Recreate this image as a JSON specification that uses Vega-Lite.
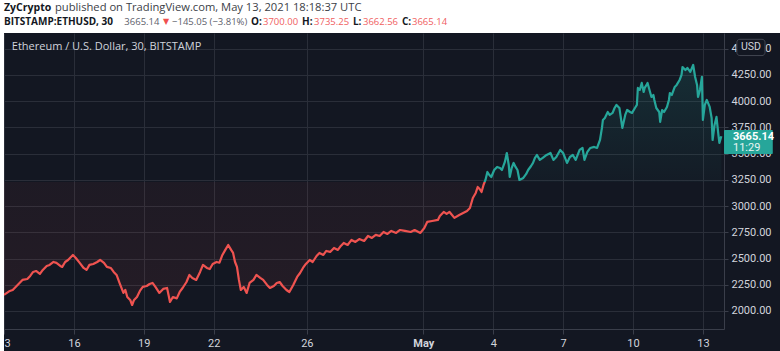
{
  "$schema": "https://vega.github.io/schema/vega-lite/v6.json",
  "width": 720,
  "height": 296,
  "autosize": {"type": "none"},
  "padding": {"left": 4, "top": 33, "right": 56, "bottom": 22},
  "background": "#131722",
  "config": {
    "view": {"stroke": null, "fill": "#131722"},
    "axis": {
      "labelFont": "Roboto", "labelFontSize": 11, "labelColor": "#d1d4dc",
      "gridColor": "#2a2e39", "gridWidth": 1, "tickColor": "#3a3e4a", "domainColor": "#3a3e4a",
      "title": null, "zindex": 0
    },
    "text": {"align": "left", "baseline": "middle", "clip": false},
    "rect": {"clip": false}
  },
  "data": {"values": [
    {"t":"2021-04-13T00:00Z","p":2153},{"t":"2021-04-13T03:00Z","p":2172},{"t":"2021-04-13T06:00Z","p":2191},{"t":"2021-04-13T09:00Z","p":2200},
    {"t":"2021-04-13T13:00Z","p":2238},{"t":"2021-04-13T16:00Z","p":2267},{"t":"2021-04-13T19:00Z","p":2296},{"t":"2021-04-14T00:00Z","p":2305},
    {"t":"2021-04-14T03:00Z","p":2334},{"t":"2021-04-14T06:00Z","p":2372},{"t":"2021-04-14T09:00Z","p":2381},{"t":"2021-04-14T13:00Z","p":2353},
    {"t":"2021-04-14T16:00Z","p":2391},{"t":"2021-04-14T20:00Z","p":2429},{"t":"2021-04-14T23:00Z","p":2439},{"t":"2021-04-15T03:00Z","p":2467},
    {"t":"2021-04-15T06:00Z","p":2458},{"t":"2021-04-15T10:00Z","p":2429},{"t":"2021-04-15T12:00Z","p":2420},{"t":"2021-04-15T15:00Z","p":2467},
    {"t":"2021-04-15T18:00Z","p":2486},{"t":"2021-04-15T21:00Z","p":2515},{"t":"2021-04-15T23:00Z","p":2534},{"t":"2021-04-16T02:00Z","p":2505},
    {"t":"2021-04-16T06:00Z","p":2458},{"t":"2021-04-16T10:00Z","p":2410},{"t":"2021-04-16T13:00Z","p":2391},{"t":"2021-04-16T16:00Z","p":2439},
    {"t":"2021-04-16T20:00Z","p":2448},{"t":"2021-04-17T00:00Z","p":2467},{"t":"2021-04-17T03:00Z","p":2486},{"t":"2021-04-17T07:00Z","p":2458},
    {"t":"2021-04-17T10:00Z","p":2420},{"t":"2021-04-17T14:00Z","p":2410},{"t":"2021-04-17T17:00Z","p":2372},{"t":"2021-04-17T20:00Z","p":2343},
    {"t":"2021-04-17T23:00Z","p":2267},{"t":"2021-04-18T03:00Z","p":2172},{"t":"2021-04-18T05:00Z","p":2200},{"t":"2021-04-18T07:00Z","p":2133},
    {"t":"2021-04-18T10:00Z","p":2105},{"t":"2021-04-18T12:00Z","p":2057},{"t":"2021-04-18T14:00Z","p":2105},{"t":"2021-04-18T17:00Z","p":2133},
    {"t":"2021-04-18T20:00Z","p":2191},{"t":"2021-04-18T23:00Z","p":2229},{"t":"2021-04-19T03:00Z","p":2238},{"t":"2021-04-19T06:00Z","p":2257},
    {"t":"2021-04-19T09:00Z","p":2267},{"t":"2021-04-19T12:00Z","p":2229},{"t":"2021-04-19T16:00Z","p":2172},{"t":"2021-04-19T20:00Z","p":2210},
    {"t":"2021-04-20T00:00Z","p":2219},{"t":"2021-04-20T03:00Z","p":2086},{"t":"2021-04-20T06:00Z","p":2133},{"t":"2021-04-20T10:00Z","p":2120},
    {"t":"2021-04-20T13:00Z","p":2181},{"t":"2021-04-20T16:00Z","p":2219},{"t":"2021-04-20T20:00Z","p":2276},{"t":"2021-04-20T23:00Z","p":2343},
    {"t":"2021-04-21T02:00Z","p":2315},{"t":"2021-04-21T06:00Z","p":2296},{"t":"2021-04-21T10:00Z","p":2372},{"t":"2021-04-21T13:00Z","p":2439},
    {"t":"2021-04-21T17:00Z","p":2410},{"t":"2021-04-21T20:00Z","p":2400},{"t":"2021-04-21T23:00Z","p":2448},{"t":"2021-04-22T03:00Z","p":2467},
    {"t":"2021-04-22T06:00Z","p":2460},{"t":"2021-04-22T09:00Z","p":2534},{"t":"2021-04-22T12:00Z","p":2582},{"t":"2021-04-22T15:00Z","p":2629},
    {"t":"2021-04-22T18:00Z","p":2582},{"t":"2021-04-22T20:00Z","p":2553},{"t":"2021-04-22T22:00Z","p":2467},{"t":"2021-04-23T00:00Z","p":2420},
    {"t":"2021-04-23T02:00Z","p":2296},{"t":"2021-04-23T04:00Z","p":2200},{"t":"2021-04-23T07:00Z","p":2229},{"t":"2021-04-23T10:00Z","p":2172},
    {"t":"2021-04-23T13:00Z","p":2267},{"t":"2021-04-23T17:00Z","p":2296},{"t":"2021-04-23T20:00Z","p":2343},{"t":"2021-04-24T00:00Z","p":2315},
    {"t":"2021-04-24T03:00Z","p":2296},{"t":"2021-04-24T07:00Z","p":2248},{"t":"2021-04-24T10:00Z","p":2219},{"t":"2021-04-24T14:00Z","p":2238},
    {"t":"2021-04-24T17:00Z","p":2267},{"t":"2021-04-24T20:00Z","p":2276},{"t":"2021-04-24T23:00Z","p":2238},{"t":"2021-04-25T03:00Z","p":2200},
    {"t":"2021-04-25T06:00Z","p":2181},{"t":"2021-04-25T10:00Z","p":2248},{"t":"2021-04-25T14:00Z","p":2324},{"t":"2021-04-25T17:00Z","p":2362},
    {"t":"2021-04-25T20:00Z","p":2410},{"t":"2021-04-25T23:00Z","p":2448},{"t":"2021-04-26T03:00Z","p":2486},{"t":"2021-04-26T06:00Z","p":2467},
    {"t":"2021-04-26T10:00Z","p":2524},{"t":"2021-04-26T13:00Z","p":2553},{"t":"2021-04-26T17:00Z","p":2534},{"t":"2021-04-26T20:00Z","p":2572},
    {"t":"2021-04-27T00:00Z","p":2563},{"t":"2021-04-27T04:00Z","p":2601},{"t":"2021-04-27T08:00Z","p":2582},{"t":"2021-04-27T11:00Z","p":2620},
    {"t":"2021-04-27T14:00Z","p":2648},{"t":"2021-04-27T18:00Z","p":2629},{"t":"2021-04-27T22:00Z","p":2677},{"t":"2021-04-28T02:00Z","p":2658},
    {"t":"2021-04-28T06:00Z","p":2686},{"t":"2021-04-28T11:00Z","p":2667},{"t":"2021-04-28T15:00Z","p":2715},{"t":"2021-04-28T19:00Z","p":2696},
    {"t":"2021-04-28T23:00Z","p":2725},{"t":"2021-04-29T03:00Z","p":2715},{"t":"2021-04-29T07:00Z","p":2753},{"t":"2021-04-29T11:00Z","p":2734},
    {"t":"2021-04-29T15:00Z","p":2763},{"t":"2021-04-29T20:00Z","p":2744},{"t":"2021-04-30T00:00Z","p":2772},{"t":"2021-04-30T05:00Z","p":2763},
    {"t":"2021-04-30T11:00Z","p":2753},{"t":"2021-04-30T15:00Z","p":2772},{"t":"2021-04-30T21:00Z","p":2744},{"t":"2021-05-01T01:00Z","p":2791},
    {"t":"2021-05-01T04:00Z","p":2849},{"t":"2021-05-01T09:00Z","p":2858},{"t":"2021-05-01T15:00Z","p":2868},{"t":"2021-05-01T17:00Z","p":2906},
    {"t":"2021-05-01T21:00Z","p":2944},{"t":"2021-05-02T00:00Z","p":2925},{"t":"2021-05-02T03:00Z","p":2944},{"t":"2021-05-02T08:00Z","p":2887},
    {"t":"2021-05-02T13:00Z","p":2915},{"t":"2021-05-02T17:00Z","p":2934},{"t":"2021-05-02T21:00Z","p":2953},{"t":"2021-05-03T00:00Z","p":2982},
    {"t":"2021-05-03T03:00Z","p":3077},{"t":"2021-05-03T06:00Z","p":3125},{"t":"2021-05-03T08:00Z","p":3182},{"t":"2021-05-03T10:00Z","p":3163},
    {"t":"2021-05-03T12:00Z","p":3134},{"t":"2021-05-03T14:00Z","p":3201},{"t":"2021-05-03T16:00Z","p":3249},{"t":"2021-05-03T18:00Z","p":3325},
    {"t":"2021-05-03T20:00Z","p":3296},{"t":"2021-05-03T22:00Z","p":3277},{"t":"2021-05-04T01:00Z","p":3344},{"t":"2021-05-04T04:00Z","p":3373},
    {"t":"2021-05-04T07:00Z","p":3363},{"t":"2021-05-04T09:00Z","p":3344},{"t":"2021-05-04T12:00Z","p":3421},{"t":"2021-05-04T14:00Z","p":3506},
    {"t":"2021-05-04T16:00Z","p":3392},{"t":"2021-05-04T17:00Z","p":3278},{"t":"2021-05-04T19:00Z","p":3363},{"t":"2021-05-04T21:00Z","p":3411},
    {"t":"2021-05-04T23:00Z","p":3373},{"t":"2021-05-05T01:00Z","p":3344},{"t":"2021-05-05T03:00Z","p":3249},{"t":"2021-05-05T07:00Z","p":3268},
    {"t":"2021-05-05T10:00Z","p":3306},{"t":"2021-05-05T12:00Z","p":3344},{"t":"2021-05-05T15:00Z","p":3382},{"t":"2021-05-05T17:00Z","p":3411},
    {"t":"2021-05-05T19:00Z","p":3459},{"t":"2021-05-05T21:00Z","p":3487},{"t":"2021-05-06T00:00Z","p":3440},{"t":"2021-05-06T03:00Z","p":3459},
    {"t":"2021-05-06T07:00Z","p":3487},{"t":"2021-05-06T11:00Z","p":3506},{"t":"2021-05-06T14:00Z","p":3440},{"t":"2021-05-06T17:00Z","p":3468},
    {"t":"2021-05-06T21:00Z","p":3535},{"t":"2021-05-07T00:00Z","p":3506},{"t":"2021-05-07T02:00Z","p":3459},{"t":"2021-05-07T04:00Z","p":3411},
    {"t":"2021-05-07T07:00Z","p":3468},{"t":"2021-05-07T10:00Z","p":3487},{"t":"2021-05-07T13:00Z","p":3440},{"t":"2021-05-07T17:00Z","p":3535},
    {"t":"2021-05-07T20:00Z","p":3554},{"t":"2021-05-07T22:00Z","p":3440},{"t":"2021-05-08T01:00Z","p":3516},{"t":"2021-05-08T04:00Z","p":3554},
    {"t":"2021-05-08T08:00Z","p":3564},{"t":"2021-05-08T11:00Z","p":3554},{"t":"2021-05-08T14:00Z","p":3630},{"t":"2021-05-08T16:00Z","p":3745},
    {"t":"2021-05-08T17:00Z","p":3821},{"t":"2021-05-08T19:00Z","p":3840},{"t":"2021-05-08T22:00Z","p":3897},{"t":"2021-05-09T00:00Z","p":3869},
    {"t":"2021-05-09T03:00Z","p":3888},{"t":"2021-05-09T05:00Z","p":3935},{"t":"2021-05-09T07:00Z","p":3964},{"t":"2021-05-09T10:00Z","p":3935},
    {"t":"2021-05-09T13:00Z","p":3745},{"t":"2021-05-09T16:00Z","p":3869},{"t":"2021-05-09T18:00Z","p":3916},{"t":"2021-05-09T21:00Z","p":3897},
    {"t":"2021-05-09T23:00Z","p":3888},{"t":"2021-05-10T02:00Z","p":3935},{"t":"2021-05-10T04:00Z","p":3964},{"t":"2021-05-10T05:00Z","p":4126},
    {"t":"2021-05-10T07:00Z","p":4107},{"t":"2021-05-10T09:00Z","p":4174},{"t":"2021-05-10T11:00Z","p":4088},{"t":"2021-05-10T12:00Z","p":4126},
    {"t":"2021-05-10T14:00Z","p":4155},{"t":"2021-05-10T15:00Z","p":4174},{"t":"2021-05-10T17:00Z","p":4107},{"t":"2021-05-10T19:00Z","p":4040},
    {"t":"2021-05-10T21:00Z","p":4059},{"t":"2021-05-10T22:00Z","p":4012},{"t":"2021-05-11T00:00Z","p":3935},{"t":"2021-05-11T03:00Z","p":3897},
    {"t":"2021-05-11T04:00Z","p":3802},{"t":"2021-05-11T06:00Z","p":3916},{"t":"2021-05-11T08:00Z","p":3897},{"t":"2021-05-11T11:00Z","p":3945},
    {"t":"2021-05-11T13:00Z","p":4012},{"t":"2021-05-11T14:00Z","p":4078},{"t":"2021-05-11T16:00Z","p":4059},{"t":"2021-05-11T19:00Z","p":4136},
    {"t":"2021-05-11T21:00Z","p":4155},{"t":"2021-05-12T00:00Z","p":4202},{"t":"2021-05-12T02:00Z","p":4250},{"t":"2021-05-12T03:00Z","p":4326},
    {"t":"2021-05-12T06:00Z","p":4297},{"t":"2021-05-12T08:00Z","p":4317},{"t":"2021-05-12T11:00Z","p":4279},{"t":"2021-05-12T14:00Z","p":4345},
    {"t":"2021-05-12T16:00Z","p":4231},{"t":"2021-05-12T18:00Z","p":4155},{"t":"2021-05-12T19:00Z","p":4040},{"t":"2021-05-12T21:00Z","p":4107},
    {"t":"2021-05-12T23:00Z","p":4231},{"t":"2021-05-13T00:00Z","p":3821},{"t":"2021-05-13T02:00Z","p":3964},{"t":"2021-05-13T04:00Z","p":4012},
    {"t":"2021-05-13T07:00Z","p":3945},{"t":"2021-05-13T09:00Z","p":3840},{"t":"2021-05-13T10:00Z","p":3630},{"t":"2021-05-13T12:00Z","p":3773},
    {"t":"2021-05-13T14:00Z","p":3850},{"t":"2021-05-13T16:00Z","p":3678},{"t":"2021-05-13T17:00Z","p":3602},{"t":"2021-05-13T19:00Z","p":3665.14}
  ]},
  "encoding": {
    "x": {
      "field": "t", "type": "temporal",
      "scale": {"type": "utc", "domain": [1618272000000, 1620942300000]},
      "axis": {
        "orient": "bottom", "grid": true, "tickSize": 5, "labelPadding": 3, "labelFlush": false, "labelOverlap": false,
        "values": [1618272000000, 1618531200000, 1618790400000, 1619049600000, 1619395200000, 1619827200000, 1620086400000, 1620345600000, 1620604800000, 1620864000000],
        "labelExpr": "utcdate(datum.value) == 1 ? 'May' : utcFormat(datum.value, '%-d')",
        "labelFontWeight": {"condition": {"test": "utcdate(datum.value) == 1", "value": "bold"}, "value": "normal"}
      }
    },
    "y": {
      "field": "p", "type": "quantitative",
      "scale": {"domain": [1828, 4650], "zero": false, "nice": false},
      "axis": {
        "orient": "right", "grid": true, "tickSize": 4, "labelPadding": 3, "format": ".2f", "labelOverlap": false, "labelBound": false,
        "values": [2000, 2250, 2500, 2750, 3000, 3250, 3500, 3750, 4000, 4250, 4500]
      }
    }
  },
  "layer": [
    {
      "mark": {
        "type": "area", "clip": true,
        "fill": {"gradient": "linear", "x1": 0, "y1": 0, "x2": 0, "y2": 1, "stops": [
          {"offset": 0, "color": "rgba(38,166,154,0.16)"},
          {"offset": 0.4874, "color": "rgba(38,166,154,0.03)"},
          {"offset": 0.4874, "color": "rgba(239,83,80,0.05)"},
          {"offset": 1, "color": "rgba(239,83,80,0.08)"}
        ]}
      },
      "encoding": {"y2": {"datum": 3230}}
    },
    {
      "mark": {
        "type": "line", "clip": true, "strokeWidth": 2.2, "strokeJoin": "round",
        "stroke": {"gradient": "linear", "x1": 0, "y1": 0, "x2": 0, "y2": 1, "stops": [
          {"offset": 0, "color": "#26a69a"},
          {"offset": 0.4874, "color": "#26a69a"},
          {"offset": 0.4874, "color": "#ef5350"},
          {"offset": 1, "color": "#ef5350"}
        ]}
      }
    },
    {
      "transform": [{"filter": {"field": "p", "equal": 3665.14}}],
      "mark": {"type": "rect", "fill": "#ffffff"},
      "encoding": {
        "x": {"datum": {"year": 2021, "month": 4, "date": 10}},
        "x2": {"datum": {"year": 2021, "month": 5, "date": 25}},
        "y": {"datum": 4650},
        "y2": {"datum": 9000}
      }
    },
    {
      "transform": [{"filter": {"field": "p", "equal": 3665.14}}],
      "mark": {"type": "rect", "fill": "#ffffff"},
      "encoding": {
        "x": {"datum": {"year": 2021, "month": 4, "date": 10}},
        "x2": {"datum": {"year": 2021, "month": 4, "date": 13}},
        "y": {"datum": 0},
        "y2": {"datum": 9000}
      }
    },
    {
      "transform": [{"filter": {"field": "p", "equal": 3665.14}}],
      "mark": {"type": "rect", "fill": "#131722", "stroke": "#434651", "strokeWidth": 1, "cornerRadius": 3},
      "encoding": {
        "x": {"datum": {"year": 2021, "month": 5, "date": 14, "hours": 11}},
        "x2": {"datum": {"year": 2021, "month": 5, "date": 15, "hours": 16}},
        "y": {"datum": 4590},
        "y2": {"datum": 4435}
      }
    },
    {
      "transform": [{"filter": {"field": "p", "equal": 3665.14}}],
      "mark": {"type": "text", "align": "center", "font": "Roboto", "fontSize": 10.5, "color": "#d1d4dc"},
      "encoding": {
        "x": {"datum": {"year": 2021, "month": 5, "date": 15, "hours": 1, "minutes": 30}},
        "y": {"datum": 4512},
        "text": {"value": "USD"}
      }
    },
    {
      "transform": [{"filter": {"field": "p", "equal": 3665.14}}],
      "mark": {"type": "rect", "fill": "#26a69a", "cornerRadius": 1},
      "encoding": {
        "x": {"datum": {"year": 2021, "month": 5, "date": 13, "hours": 21, "minutes": 45}},
        "x2": {"datum": {"year": 2021, "month": 5, "date": 16}},
        "y": {"datum": 3725},
        "y2": {"datum": 3496}
      }
    },
    {
      "transform": [{"filter": {"field": "p", "equal": 3665.14}}],
      "mark": {"type": "text", "font": "Roboto", "fontSize": 11, "fontWeight": "bold", "color": "#ffffff"},
      "encoding": {
        "x": {"datum": {"year": 2021, "month": 5, "date": 14, "hours": 7}},
        "y": {"datum": 3658},
        "text": {"field": "p", "format": ".2f"}
      }
    },
    {
      "transform": [{"filter": {"field": "p", "equal": 3665.14}}],
      "mark": {"type": "text", "font": "Roboto", "fontSize": 11, "color": "#e8f5f3"},
      "encoding": {
        "x": {"datum": {"year": 2021, "month": 5, "date": 14, "hours": 7}},
        "y": {"datum": 3554},
        "text": {"value": "11:29"}
      }
    },
    {
      "transform": [{"filter": {"field": "p", "equal": 3665.14}}],
      "mark": {"type": "text", "font": "Open Sans", "fontSize": 11, "color": "#d1d4dc"},
      "encoding": {
        "x": {"datum": {"year": 2021, "month": 4, "date": 13, "hours": 8}},
        "y": {"datum": 4516},
        "text": {"value": "Ethereum / U.S. Dollar, 30, BITSTAMP"}
      }
    },
    {
      "transform": [{"filter": {"field": "p", "equal": 3665.14}}],
      "mark": {"type": "text", "font": "Open Sans", "fontSize": 10.5, "fontWeight": "bold", "color": "#131722"},
      "encoding": {
        "x": {"datum": {"year": 2021, "month": 4, "date": 13}},
        "y": {"datum": 4888},
        "text": {"value": "ZyCrypto"}
      }
    },
    {
      "transform": [{"filter": {"field": "p", "equal": 3665.14}}],
      "mark": {"type": "text", "font": "Open Sans", "fontSize": 11.2, "color": "#3b3e47"},
      "encoding": {
        "x": {"datum": {"year": 2021, "month": 4, "date": 15, "hours": 4, "minutes": 30}},
        "y": {"datum": 4888},
        "text": {"value": "published on TradingView.com, May 13, 2021 18:18:37 UTC"}
      }
    },
    {
      "transform": [{"filter": {"field": "p", "equal": 3665.14}}],
      "mark": {"type": "text", "font": "Open Sans", "fontSize": 10, "fontWeight": "bold", "color": "#131722"},
      "encoding": {
        "x": {"datum": {"year": 2021, "month": 4, "date": 13}},
        "y": {"datum": 4755},
        "text": {"value": "BITSTAMP:ETHUSD, 30"}
      }
    },
    {
      "transform": [{"filter": {"field": "p", "equal": 3665.14}}],
      "mark": {"type": "text", "font": "Open Sans", "fontSize": 9.5, "color": "#5d606b"},
      "encoding": {
        "x": {"datum": {"year": 2021, "month": 4, "date": 18, "hours": 4}},
        "y": {"datum": 4755},
        "text": {"value": "3665.14"}
      }
    },
    {
      "transform": [{"filter": {"field": "p", "equal": 3665.14}}],
      "mark": {"type": "text", "font": "DejaVu Sans", "fontSize": 8, "color": "#f0504f"},
      "encoding": {
        "x": {"datum": {"year": 2021, "month": 4, "date": 19, "hours": 19, "minutes": 48}},
        "y": {"datum": 4755},
        "text": {"value": "▼"}
      }
    },
    {
      "transform": [{"filter": {"field": "p", "equal": 3665.14}}],
      "mark": {"type": "text", "font": "Open Sans", "fontSize": 9.5, "color": "#5d606b"},
      "encoding": {
        "x": {"datum": {"year": 2021, "month": 4, "date": 20, "hours": 5, "minutes": 6}},
        "y": {"datum": 4755},
        "text": {"value": "−145.05 (−3.81%)"}
      }
    },
    {
      "transform": [{"filter": {"field": "p", "equal": 3665.14}}],
      "mark": {"type": "text", "font": "Open Sans", "fontSize": 10, "fontWeight": "bold", "color": "#131722"},
      "encoding": {
        "x": {"datum": {"year": 2021, "month": 4, "date": 23, "hours": 14, "minutes": 30}},
        "y": {"datum": 4755},
        "text": {"value": "O:"}
      }
    },
    {
      "transform": [{"filter": {"field": "p", "equal": 3665.14}}],
      "mark": {"type": "text", "font": "Open Sans", "fontSize": 9.5, "color": "#f0605f"},
      "encoding": {
        "x": {"datum": {"year": 2021, "month": 4, "date": 24, "hours": 2, "minutes": 48}},
        "y": {"datum": 4755},
        "text": {"value": "3700.00"}
      }
    },
    {
      "transform": [{"filter": {"field": "p", "equal": 3665.14}}],
      "mark": {"type": "text", "font": "Open Sans", "fontSize": 10, "fontWeight": "bold", "color": "#131722"},
      "encoding": {
        "x": {"datum": {"year": 2021, "month": 4, "date": 25, "hours": 19}},
        "y": {"datum": 4755},
        "text": {"value": "H:"}
      }
    },
    {
      "transform": [{"filter": {"field": "p", "equal": 3665.14}}],
      "mark": {"type": "text", "font": "Open Sans", "fontSize": 9.5, "color": "#f0605f"},
      "encoding": {
        "x": {"datum": {"year": 2021, "month": 4, "date": 26, "hours": 7, "minutes": 24}},
        "y": {"datum": 4755},
        "text": {"value": "3735.25"}
      }
    },
    {
      "transform": [{"filter": {"field": "p", "equal": 3665.14}}],
      "mark": {"type": "text", "font": "Open Sans", "fontSize": 10, "fontWeight": "bold", "color": "#131722"},
      "encoding": {
        "x": {"datum": {"year": 2021, "month": 4, "date": 27, "hours": 23, "minutes": 30}},
        "y": {"datum": 4755},
        "text": {"value": "L:"}
      }
    },
    {
      "transform": [{"filter": {"field": "p", "equal": 3665.14}}],
      "mark": {"type": "text", "font": "Open Sans", "fontSize": 9.5, "color": "#f0605f"},
      "encoding": {
        "x": {"datum": {"year": 2021, "month": 4, "date": 28, "hours": 9, "minutes": 48}},
        "y": {"datum": 4755},
        "text": {"value": "3662.56"}
      }
    },
    {
      "transform": [{"filter": {"field": "p", "equal": 3665.14}}],
      "mark": {"type": "text", "font": "Open Sans", "fontSize": 10, "fontWeight": "bold", "color": "#131722"},
      "encoding": {
        "x": {"datum": {"year": 2021, "month": 4, "date": 30, "hours": 2}},
        "y": {"datum": 4755},
        "text": {"value": "C:"}
      }
    },
    {
      "transform": [{"filter": {"field": "p", "equal": 3665.14}}],
      "mark": {"type": "text", "font": "Open Sans", "fontSize": 9.5, "color": "#f0605f"},
      "encoding": {
        "x": {"datum": {"year": 2021, "month": 4, "date": 30, "hours": 12, "minutes": 18}},
        "y": {"datum": 4755},
        "text": {"value": "3665.14"}
      }
    }
  ]
}
